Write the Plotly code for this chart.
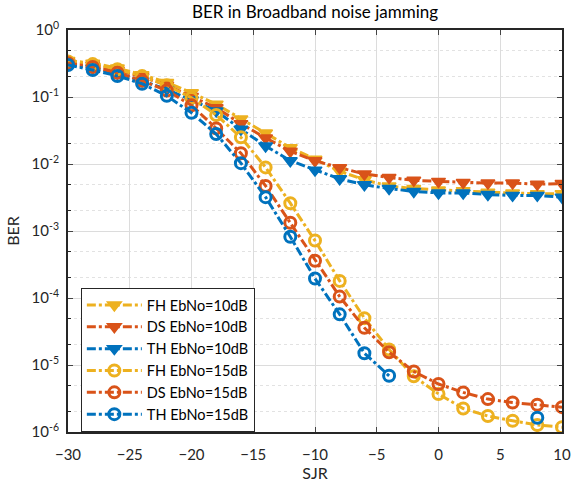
import plotly.graph_objects as go

sjr = [-30, -28, -26, -24, -22, -20, -18, -16, -14, -12, -10, -8, -6, -4, -2, 0, 2, 4, 6, 8, 10]

fh_10 = [0.35, 0.32, 0.27, 0.215, 0.165, 0.116, 0.078, 0.047, 0.029, 0.0175, 0.0118, 0.0078,
         0.0058, 0.0047, 0.0043, 0.0041, 0.0040, 0.0038, 0.0037, 0.0036, 0.0036]
ds_10 = [0.33, 0.30, 0.25, 0.20, 0.15, 0.102, 0.069, 0.040, 0.0245, 0.0155, 0.0112, 0.0088,
         0.0071, 0.0063, 0.0057, 0.0055, 0.0053, 0.0052, 0.0052, 0.0050, 0.0051]
th_10 = [0.31, 0.27, 0.225, 0.175, 0.13, 0.09, 0.062, 0.033, 0.0186, 0.0112, 0.0081, 0.0060,
         0.0049, 0.0043, 0.0039, 0.0037, 0.0037, 0.0035, 0.0034, 0.0034, 0.0032]
fh_15 = [0.34, 0.31, 0.26, 0.205, 0.15, 0.097, 0.054, 0.025, 0.0089, 0.0026, 0.00072, 0.00018,
         5.0e-5, 1.7e-5, 6.8e-6, 3.7e-6, 2.24e-6, 1.73e-6, 1.47e-6, 1.27e-6, 1.18e-6]
ds_15 = [0.32, 0.28, 0.23, 0.175, 0.125, 0.075, 0.034, 0.0145, 0.0047, 0.00133, 0.00036, 0.000105,
         3.6e-5, 1.55e-5, 8.0e-6, 5.2e-6, 3.9e-6, 3.1e-6, 2.75e-6, 2.55e-6, 2.35e-6]
th_15 = [0.30, 0.253, 0.206, 0.158, 0.104, 0.058, 0.028, 0.0103, 0.0032, 0.00082, 0.000195, 5.7e-5,
         1.5e-5, 6.9e-6, None, None, None, None, None, 1.63e-6, None]

series_names = ["FH EbNo=10dB", "DS EbNo=10dB", "TH EbNo=10dB",
                "FH EbNo=15dB", "DS EbNo=15dB", "TH EbNo=15dB"]
series_values = [fh_10, ds_10, th_10, fh_15, ds_15, th_15]
colors = ["#EDB120", "#D95319", "#0072BD", "#EDB120", "#D95319", "#0072BD"]
symbols = ["triangle-down", "triangle-down", "triangle-down",
           "circle-open", "circle-open", "circle-open"]

y_tickvals = [1e-6, 1e-5, 1e-4, 1e-3, 1e-2, 1e-1, 1e0]
y_ticktext = ["10<sup>-6</sup>", "10<sup>-5</sup>", "10<sup>-4</sup>", "10<sup>-3</sup>",
              "10<sup>-2</sup>", "10<sup>-1</sup>", "10<sup>0</sup>"]
x_tickvals = [-30, -25, -20, -15, -10, -5, 0, 5, 10]

fig = go.Figure()
for name, vals, col, sym in zip(series_names, series_values, colors, symbols):
    if sym == "triangle-down":
        marker = dict(symbol=sym, size=12, color=col, line=dict(color=col, width=1.5))
    else:
        marker = dict(symbol=sym, size=11, color=col, line=dict(color=col, width=3))
    fig.add_trace(go.Scatter(
        x=sjr, y=vals, name=name, mode="lines+markers",
        line=dict(color=col, width=3, dash="dashdot"),
        marker=marker, connectgaps=False,
    ))

font_family = "Lato, Open Sans, sans-serif"
fig.update_layout(
    width=573, height=484,
    margin=dict(l=68, r=11, t=30, b=52),
    paper_bgcolor="white", plot_bgcolor="white",
    font=dict(family=font_family, size=15, color="#262626"),
    title=dict(text="BER in Broadband noise jamming", x=(68 + 562) / 2 / 573, xanchor="center",
               y=1 - 12 / 484, yanchor="middle", font=dict(size=17, color="black")),
    showlegend=True,
    legend=dict(x=0.026, y=(432 - 288) / 402, xanchor="left", yanchor="top",
                bgcolor="white", bordercolor="#262626", borderwidth=1,
                font=dict(size=14.5, color="black"), tracegroupgap=0, itemwidth=55),
)
fig.update_xaxes(
    range=[-30, 10], tickvals=x_tickvals, ticks="inside", ticklen=5, tickwidth=1,
    showline=True, linecolor="#262626", linewidth=2, mirror="ticks",
    showgrid=True, gridcolor="#dcdcdc", gridwidth=1, zeroline=False,
    title=dict(text="SJR", font=dict(size=16), standoff=2),
    tickfont=dict(size=15), ticklabelstandoff=8, automargin=False,
)
fig.update_yaxes(
    type="log", range=[-6, 0], tickvals=y_tickvals, ticktext=y_ticktext,
    ticks="inside", ticklen=5, tickwidth=1,
    showline=True, linecolor="#262626", linewidth=2, mirror="ticks",
    showgrid=True, gridcolor="#dcdcdc", gridwidth=1, zeroline=False,
    minor=dict(ticks="inside", ticklen=3, tickcolor="#262626", showgrid=True,
               gridcolor="#e2e2e2", griddash="dot", gridwidth=1),
    title=dict(text="BER", font=dict(size=16), standoff=8),
    tickfont=dict(size=15), ticklabelstandoff=4, automargin=False,
)

fig.write_html("out.html")
